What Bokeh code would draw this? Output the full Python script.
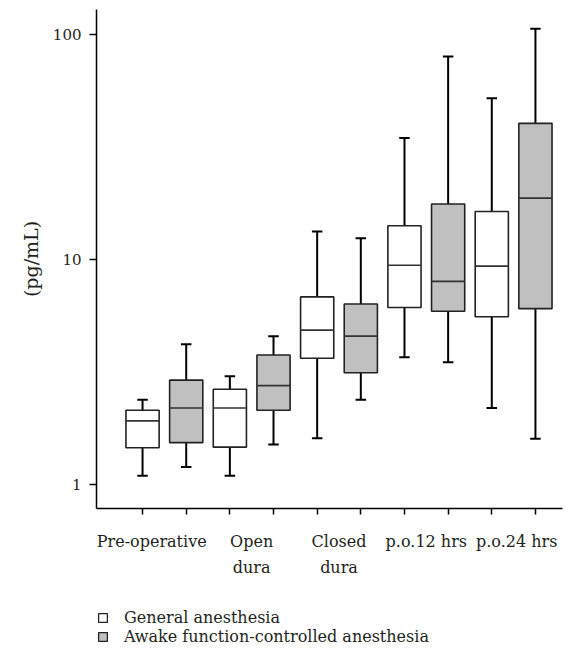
from bokeh.plotting import figure
from bokeh.layouts import column
from bokeh.models import ColumnDataSource, FixedTicker, Legend, LegendItem, Range1d, BasicTickFormatter
from bokeh.embed import file_html
from bokeh.resources import INLINE

groups = ["Pre-operative", "Open\ndura", "Closed\ndura", "p.o.12 hrs", "p.o.24 hrs"]
series = ["General anesthesia", "Awake function-controlled anesthesia"]
fills = ["white", "#c0c0c0"]

ga_min = [1.09, 1.09, 1.60, 3.67, 2.18]
ga_q1 = [1.45, 1.46, 3.63, 6.10, 5.55]
ga_med = [1.91, 2.18, 4.84, 9.41, 9.32]
ga_q3 = [2.13, 2.64, 6.80, 14.1, 16.3]
ga_max = [2.37, 3.02, 13.3, 34.6, 52.0]

aw_min = [1.19, 1.50, 2.37, 3.48, 1.59]
aw_q1 = [1.53, 2.13, 3.13, 5.87, 6.03]
aw_med = [2.18, 2.74, 4.55, 7.97, 18.7]
aw_q3 = [2.90, 3.75, 6.32, 17.6, 40.2]
aw_max = [4.19, 4.54, 12.4, 79.8, 106.0]

# horizontal nudge of each group label (in box-slot units) as in the original layout
label_shift = [-0.29, 0.0, 0.0, 0.0, 0.07]

FONT = "DejaVu Serif"
TXT = "#231f20"
BOX_W = 0.76
CAP_W = 0.24

W = 579
p = figure(width=W, height=580, y_axis_type="log", output_backend="svg",
           toolbar_location=None, x_range=Range1d(-1.055, 9.62),
           y_range=Range1d(0.779, 129.0),
           min_border_left=96, min_border_top=9, min_border_right=17, min_border_bottom=66)
p.outline_line_color = None
p.grid.visible = False
p.background_fill_color = "white"


def make_src(offset, mn, q1, md, q3, mx):
    x = [2 * i + offset for i in range(len(groups))]
    return ColumnDataSource(dict(
        x=x, mn=mn, q1=q1, md=md, q3=q3, mx=mx,
        l=[v - BOX_W / 2 for v in x], r=[v + BOX_W / 2 for v in x],
        cl=[v - CAP_W / 2 for v in x], cr=[v + CAP_W / 2 for v in x],
    ))


for off, vals, fill in [(0, (ga_min, ga_q1, ga_med, ga_q3, ga_max), fills[0]),
                        (1, (aw_min, aw_q1, aw_med, aw_q3, aw_max), fills[1])]:
    src = make_src(off, *vals)
    p.segment(x0="x", x1="x", y0="q3", y1="mx", source=src, line_color="black", line_width=2)
    p.segment(x0="x", x1="x", y0="q1", y1="mn", source=src, line_color="black", line_width=2)
    p.segment(x0="cl", x1="cr", y0="mx", y1="mx", source=src, line_color="black", line_width=2)
    p.segment(x0="cl", x1="cr", y0="mn", y1="mn", source=src, line_color="black", line_width=2)
    p.vbar(x="x", width=BOX_W, bottom="q1", top="q3", source=src,
           fill_color=fill, line_color="#222222", line_width=1.6)
    p.segment(x0="l", x1="r", y0="md", y1="md", source=src, line_color="#333333", line_width=1.6)

# y axis
yax = p.yaxis[0]
yax.ticker = FixedTicker(ticks=[1, 10, 100], minor_ticks=[])
yax.formatter = BasicTickFormatter()
yax.major_label_overrides = {1: "1", 10: "10", 100: "100"}
yax.axis_label = "(pg/mL)"
yax.axis_label_text_font = FONT
yax.axis_label_text_font_style = "normal"
yax.axis_label_text_font_size = "19px"
yax.axis_label_text_color = TXT
yax.axis_label_standoff = 8
yax.major_label_text_font = FONT
yax.major_label_text_font_size = "15px"
yax.major_label_text_color = TXT
yax.major_tick_out = 7
yax.major_tick_in = 0
yax.major_label_standoff = 8
yax.axis_line_width = 1.5
yax.major_tick_line_width = 1.5

# x axis: minor ticks under every box, invisible major ticks carry the group labels
xax = p.xaxis[0]
label_pos = [2 * i + 0.5 + s for i, s in enumerate(label_shift)]
xax.ticker = FixedTicker(ticks=label_pos, minor_ticks=list(range(2 * len(groups))))
xax.major_label_overrides = {c: g for c, g in zip(label_pos, groups)}
xax.major_tick_line_color = None
xax.minor_tick_out = 6
xax.minor_tick_in = 0
xax.minor_tick_line_width = 1.5
xax.axis_line_width = 1.5
xax.major_label_text_font = FONT
xax.major_label_text_font_size = "16px"
xax.major_label_text_color = TXT
xax.major_label_text_line_height = 1.42
xax.major_label_standoff = 17

# legend in a strip below the chart (its frame is aligned with the chart frame)
lg = figure(width=W, height=77, output_backend="svg", toolbar_location=None,
            x_range=Range1d(0, 1), y_range=Range1d(0, 1),
            min_border_left=0, min_border_right=0, min_border_top=0, min_border_bottom=0)
lg.axis.visible = False
lg.grid.visible = False
lg.outline_line_color = None
nan = float("nan")
items = []
for name, fill in zip(series, fills):
    # legend-only proxy with no drawable geometry
    r = lg.vbar(x=[nan], width=0.5, top=[nan], bottom=[nan], fill_color=fill,
                line_color="#222222", line_width=1.3)
    items.append(LegendItem(label=name, renderers=[r]))
legend = Legend(items=items, location=(1, 11), orientation="vertical",
                border_line_color=None, background_fill_alpha=0,
                glyph_width=11, glyph_height=11, label_standoff=16, spacing=0,
                label_height=19, padding=0, margin=0,
                label_text_font=FONT, label_text_font_size="16px", label_text_color=TXT)
lg.add_layout(legend, "center")

open("out.html", "w").write(file_html(column(p, lg, spacing=0), INLINE))
